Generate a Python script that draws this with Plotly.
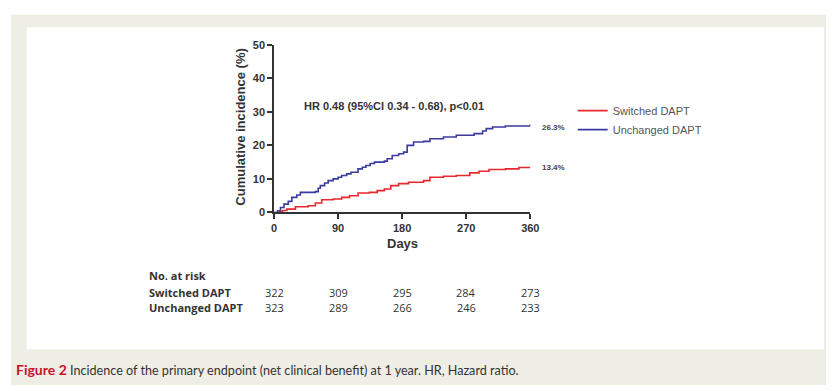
import plotly.graph_objects as go

# ---- data ----
switched_days = [0, 8, 12, 18, 30, 48, 58, 67, 83, 95, 106, 118, 134, 145, 155, 164, 175, 189, 210, 219, 238, 256, 275, 288, 302, 325, 344, 360]
switched_pct  = [0, 0.3, 0.6, 1.0, 1.7, 2.0, 2.8, 3.8, 4.0, 4.5, 5.0, 5.8, 6.0, 6.5, 7.0, 8.0, 8.6, 9.0, 9.5, 10.5, 10.8, 11.0, 11.8, 12.3, 12.8, 13.0, 13.4, 13.4]

unchanged_days = [0, 5, 9, 14, 20, 25, 32, 37, 58, 62, 65, 71, 76, 83, 90, 95, 102, 108, 118, 124, 129, 135, 141, 155, 159, 166, 175, 182, 187, 196, 210, 219, 238, 256, 281, 293, 298, 307, 325, 360]
unchanged_pct  = [0, 0.5, 1.5, 2.5, 3.3, 4.5, 5.2, 6.0, 6.2, 7.2, 8.0, 8.8, 9.5, 10.0, 10.5, 11.0, 11.5, 12.0, 13.0, 13.5, 14.0, 14.6, 15.0, 15.3, 16.0, 17.0, 17.5, 18.0, 20.0, 21.0, 21.2, 22.0, 22.5, 23.0, 23.5, 24.3, 25.0, 25.5, 25.8, 26.3]

x_ticks = [0, 90, 180, 270, 360]
y_ticks = [0, 10, 20, 30, 40, 50]
risk_switched = [322, 309, 295, 284, 273]
risk_unchanged = [323, 289, 266, 246, 233]

RED = "#e8282c"
BLUE = "#3b3b9e"
W, H = 835, 391

def px(x):
    return x / W

def py(y):
    return 1 - y / H

fig = go.Figure()
fig.add_trace(go.Scatter(x=switched_days, y=switched_pct, mode="lines", line=dict(color=RED, width=1.6, shape="hv"),
                         name="Switched DAPT"))
fig.add_trace(go.Scatter(x=unchanged_days, y=unchanged_pct, mode="lines", line=dict(color=BLUE, width=1.6, shape="hv"),
                         name="Unchanged DAPT"))

axis_font = dict(family="Liberation Sans, Arial, sans-serif", size=11, color="#333333", weight="bold")

fig.update_layout(
    width=W, height=H, margin=dict(l=0, r=0, t=0, b=0),
    paper_bgcolor="white", plot_bgcolor="rgba(0,0,0,0)",
    xaxis=dict(domain=[px(275), px(535)], range=[0, 360], tickvals=x_ticks, showgrid=False, zeroline=False,
               showline=True, linecolor="#333333", linewidth=1.5, ticks="outside", ticklen=5, tickwidth=1.5,
               tickcolor="#333333", tickfont=axis_font, anchor="y"),
    yaxis=dict(domain=[py(213), py(40)], range=[0, 50], tickvals=y_ticks, showgrid=False, zeroline=False,
               showline=True, linecolor="#333333", linewidth=1.5, ticks="outside", ticklen=5, tickwidth=1.5,
               tickcolor="#333333", tickfont=axis_font, anchor="x"),
    showlegend=True,
    legend=dict(x=px(578), y=py(93), xanchor="left", yanchor="top", bgcolor="rgba(0,0,0,0)",
                font=dict(family="Liberation Sans, Arial, sans-serif", size=11, color="#555555"),
                itemwidth=30, tracegroupgap=0),
)

shapes = [
    dict(type="rect", xref="paper", yref="paper", x0=px(8), x1=px(835), y0=py(391), y1=py(9),
         fillcolor="#efeee5", line=dict(width=0), layer="below"),
    dict(type="rect", xref="paper", yref="paper", x0=px(24), x1=px(833), y0=py(354), y1=py(22),
         fillcolor="white", line=dict(width=0), layer="below"),
]
fig.update_layout(shapes=shapes)

ann = []
bold = dict(family="Liberation Sans, Arial, sans-serif", color="#333333", weight="bold")

def A(**kw):
    kw.setdefault("xref", "paper")
    kw.setdefault("yref", "paper")
    kw.setdefault("showarrow", False)
    kw.setdefault("xanchor", "center")
    kw.setdefault("yanchor", "middle")
    ann.append(kw)

A(text="Cumulative incidence (%)", x=px(241), y=py(125), textangle=-90, font=dict(size=13, **bold))
A(text="Days", x=px(405), y=py(245), font=dict(size=13, **bold))
A(text="HR 0.48 (95%CI 0.34 - 0.68), p<0.01", x=px(303), y=py(103), xanchor="left", font=dict(size=11, **bold))
small = dict(size=8, family="Liberation Sans, Arial, sans-serif", color="#444444", weight="bold")
A(text=f"{unchanged_pct[-1]}%", x=px(545), y=py(125), xanchor="left", font=small)
A(text=f"{switched_pct[-1]}%", x=px(545), y=py(167), xanchor="left", font=small)

tbl = dict(family="Open Sans, Lato, sans-serif", size=11, color="#333333")
A(text="<b>No. at risk</b>", x=px(146), y=py(278), xanchor="left", font=tbl)
A(text="<b>Switched DAPT</b>", x=px(146), y=py(296), xanchor="left", font=tbl)
A(text="<b>Unchanged DAPT</b>", x=px(146), y=py(311), xanchor="left", font=tbl)
for d, s, u in zip(x_ticks, risk_switched, risk_unchanged):
    A(text=str(s), x=d, xref="x", y=py(296), font=tbl)
    A(text=str(u), x=d, xref="x", y=py(311), font=tbl)

A(text="<b><span style='color:#c8102e;font-size:14px'>Figure 2</span></b> Incidence of the primary endpoint (net clinical benefit) at 1 year. HR, Hazard ratio.",
  x=px(11), y=py(375), xanchor="left",
  font=dict(family="Lato, Open Sans, sans-serif", size=12.6, color="#333333"))
fig.update_layout(annotations=ann)

css = ("var s=document.createElement('style');"
       "s.textContent='html,body{margin:0!important;padding:0!important;overflow:hidden!important;}';"
       "document.head.appendChild(s);")
fig.write_html("out.html", post_script=css)
